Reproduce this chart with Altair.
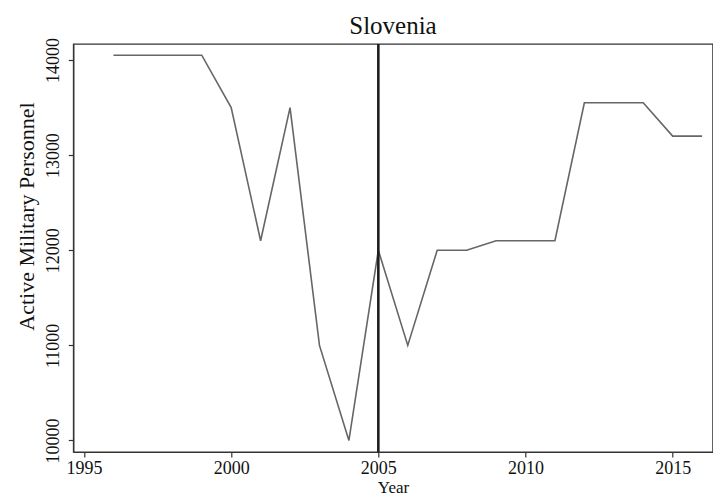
import altair as alt
import pandas as pd

years = list(range(1996, 2017))
personnel = [14050, 14050, 14050, 14050, 13500, 12100, 13500, 11000, 10000, 12000,
             11000, 12000, 12000, 12100, 12100, 12100, 13550, 13550, 13550, 13200, 13200]
x_ticks = [1995, 2000, 2005, 2010, 2015]
y_ticks = [10000, 11000, 12000, 13000, 14000]
event_year = [2005]
chart_title = ["Slovenia"]

df = pd.DataFrame({"Year": years, "Personnel": personnel})
ev = pd.DataFrame({"Year": event_year})
tt = pd.DataFrame({"t": chart_title})

FONT = "Liberation Serif"
W, H = 639.4, 408

xscale = alt.Scale(domain=[1994.636, 2016.36], nice=False, zero=False)
yscale = alt.Scale(domain=[9879, 14168], nice=False, zero=False)

line = alt.Chart(df).mark_line(color="#666666", strokeWidth=1.6).encode(
    x=alt.X("Year:Q", scale=xscale,
            axis=alt.Axis(values=x_ticks, format="d", title="Year",
                          titleY=40.5, titleBaseline="alphabetic",
                          labelPadding=3, labelFontSize=18, titleFontSize=17,
                          titleFontWeight="normal")),
    y=alt.Y("Personnel:Q", scale=yscale,
            axis=alt.Axis(values=y_ticks, format="d", title="Active Military Personnel",
                          labelAngle=270, labelAlign="center", labelBaseline="alphabetic",
                          labelPadding=10, labelFontSize=18,
                          titleAngle=270, titleX=-39.3, titleY=172,
                          titleAlign="center", titleBaseline="alphabetic",
                          titleFontSize=22, titleFontWeight="normal")),
)

rule = alt.Chart(ev).mark_rule(color="#1e1e1e", strokeWidth=2.6).encode(
    x=alt.X("Year:Q", scale=xscale)
)

title = alt.Chart(tt).mark_text(font=FONT, fontSize=25, color="#111111",
                                align="center", baseline="alphabetic").encode(
    text="t:N", x=alt.value(W / 2), y=alt.value(-10.5)
)

chart = (line + rule + title).properties(
    width=W,
    height=H,
    autosize=alt.AutoSizeParams(type="none"),
    padding={"left": 65.3, "top": 36, "right": 0, "bottom": 60},
    background="white",
).configure_axis(
    labelFont=FONT, titleFont=FONT, labelColor="#111111", titleColor="#111111",
    grid=False, domainColor="#333333", tickColor="#333333", tickSize=5,
    domainWidth=1.2, tickWidth=1.2,
).configure_view(
    stroke="#333333", strokeWidth=1.3
)

chart.save("out.html", embed_options={"renderer": "svg", "actions": False})
